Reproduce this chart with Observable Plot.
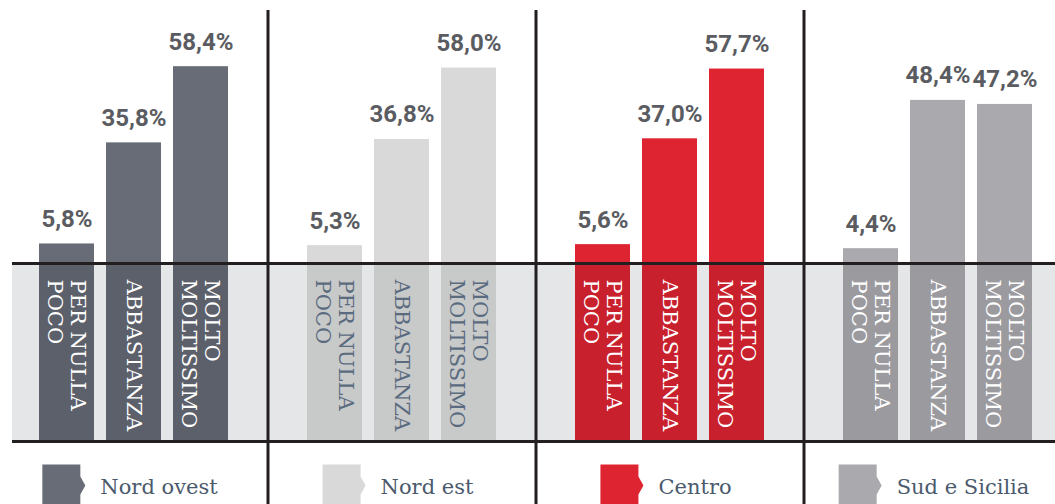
<!DOCTYPE html>
<html>
<head>
<meta charset="utf-8">
<script src="https://cdn.jsdelivr.net/npm/d3@7"></script>
<script src="https://cdn.jsdelivr.net/npm/@observablehq/plot@0.6"></script>
<style>
  html, body { margin: 0; padding: 0; background: #ffffff; }
  #chart svg { display: block; background: #ffffff; }
</style>
</head>
<body>
<div id="chart"></div>
<script>
// ---- data ----
const regions = ["Nord ovest", "Nord est", "Centro", "Sud e Sicilia"];
const categories = ["PER NULLA\nPOCO", "ABBASTANZA", "MOLTO\nMOLTISSIMO"];
const nordOvest = [5.8, 35.8, 58.4];
const nordEst = [5.3, 36.8, 58.0];
const centro = [5.6, 37.0, 57.7];
const sudSicilia = [4.4, 48.4, 47.2];
const seriesValues = [nordOvest, nordEst, centro, sudSicilia];

// ---- styles ----
const topColors = ["#676c77", "#d9d9d9", "#df2431", "#aaa9ae"];
const bandColors = ["#5c606a", "#c8c9c9", "#c8202d", "#9b9a9f"];
const bandTextColors = ["#ffffff", "#5a6b80", "#ffffff", "#ffffff"];

const W = 1055, H = 504;
const K = 3.37;          // px per percentage point
const ZERO_PX = 263;     // baseline position
const BAND_PX = 178;     // depth of the label band
const BASE = -BAND_PX / K;

const key = (r, c) => r + "|" + c;
const gapKeys = ["gap1", "gap2", "gap3"];
const xDomain = [];
regions.forEach((r, i) => {
  categories.forEach(c => xDomain.push(key(r, c)));
  if (i < regions.length - 1) xDomain.push(gapKeys[i]);
});

const data = [];
regions.forEach((r, i) => {
  categories.forEach((c, j) => {
    data.push({
      region: r, category: c, key: key(r, c), value: seriesValues[i][j],
      top: topColors[i], band: bandColors[i], textColor: bandTextColors[i],
      label: seriesValues[i][j].toFixed(1).replace(".", ",") + "%"
    });
  });
});

const marginLeft = 30.25, marginRight = 15.25;

// legend measurements
const legendFont = "21px 'DejaVu Serif'";
const cv = document.createElement("canvas").getContext("2d");
cv.font = legendFont;
const SW = 38, GAP = 20;

const swatchSymbol = {
  draw(ctx) {
    ctx.moveTo(-19, -21);
    ctx.lineTo(19, -21);
    ctx.lineTo(19, -9);
    ctx.lineTo(24, 0);
    ctx.lineTo(19, 9);
    ctx.lineTo(19, 30);
    ctx.lineTo(-19, 30);
    ctx.closePath();
  }
};

const legendMarks = [];
regions.forEach((r, i) => {
  const tw = cv.measureText(r).width;
  const total = SW + GAP + tw;
  const left = -total / 2;
  const center = key(r, categories[1]);
  legendMarks.push(
    Plot.dot([r], {x: () => center, y: () => BASE, dy: 44, dx: left + SW / 2 - 4,
      symbol: swatchSymbol, fill: topColors[i], stroke: null, r: 10}),
    Plot.text([r], {x: () => center, y: () => BASE, dy: 46, dx: left + SW + GAP - 4,
      text: d => d, textAnchor: "start", lineAnchor: "middle",
      fill: "#4b5a6d", fontSize: 21, fontFamily: "DejaVu Serif"})
  );
});

const chart = Plot.plot({
  width: W,
  height: H,
  marginLeft, marginRight, marginTop: 0, marginBottom: 0,
  x: {type: "band", domain: xDomain, paddingInner: 0.183, paddingOuter: 0.0915, axis: null},
  y: {domain: [-(H - ZERO_PX) / K, ZERO_PX / K], axis: null},
  color: {type: "identity"},
  marks: [
    Plot.rect([0], {y1: BASE, y2: 0, fill: "#e5e6e8", insetLeft: 12 - marginLeft, insetRight: -marginRight}),
    Plot.barY(data, {x: "key", y1: 0, y2: "value", fill: "top"}),
    Plot.barY(data, {x: "key", y1: BASE, y2: 0, fill: "band"}),
    Plot.ruleY([0, BASE], {stroke: "#231f20", strokeWidth: 3, insetLeft: 12 - marginLeft, insetRight: -marginRight}),
    Plot.ruleX(gapKeys, {stroke: "#231f20", strokeWidth: 3, insetTop: 10}),
    Plot.text(data, {x: "key", y: "value", text: "label", dy: -17, lineAnchor: "bottom",
      fontSize: 24, fontWeight: 700, fontFamily: "Roboto", fill: "#5a5c61"}),
    Plot.text(data, {x: "key", y: () => 0, text: "category", rotate: 90, textAnchor: "start",
      lineAnchor: "middle", dy: 16, fill: "textColor", fontSize: 21, lineHeight: 1.08,
      fontFamily: "DejaVu Serif"}),
    ...legendMarks
  ]
});
document.getElementById("chart").appendChild(chart);
</script>
</body>
</html>
